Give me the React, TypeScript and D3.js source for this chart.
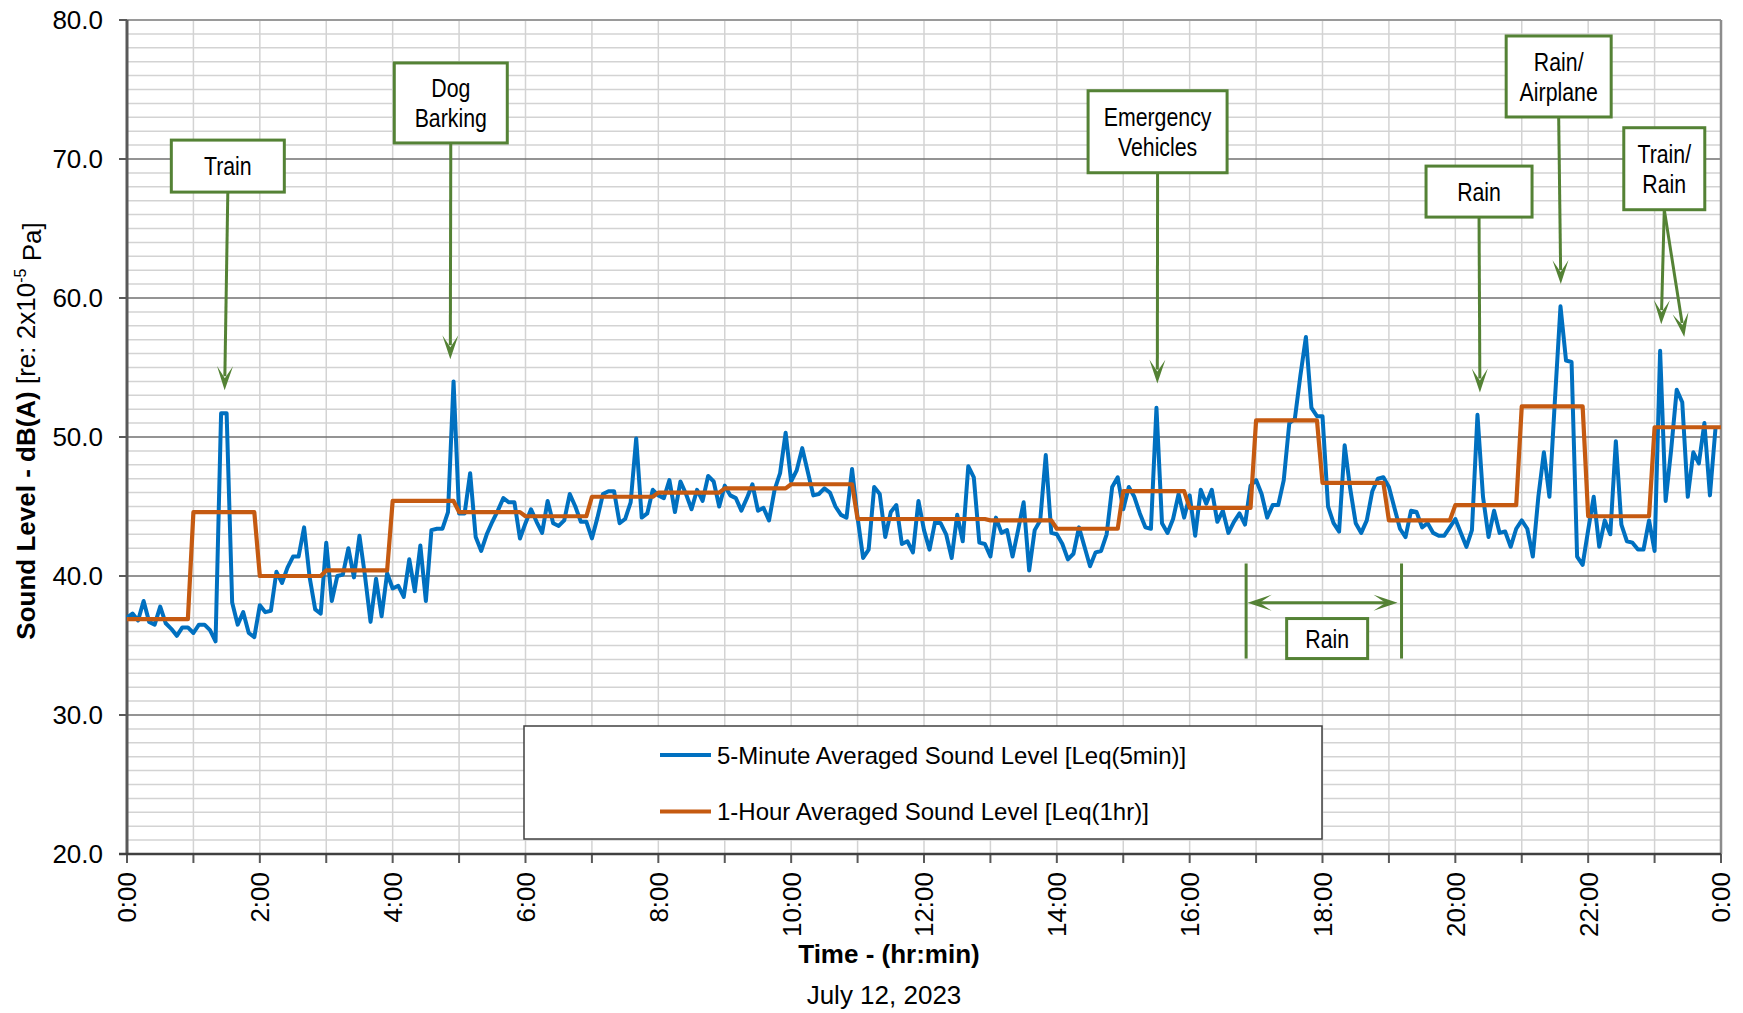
import React from 'react';
import * as d3 from 'd3';

// ---------- DATA ----------
// 5-minute Leq values, 0:00 .. 23:55 (288 samples)
const leq5min: number[] = [
  37.0, 37.3, 36.8, 38.2, 36.7, 36.5, 37.8, 36.6, 36.2, 35.7, 36.3, 36.3,
  35.9, 36.5, 36.5, 36.1, 35.3, 51.7, 51.7, 38.1, 36.5, 37.4, 35.9, 35.6,
  37.9, 37.4, 37.5, 40.3, 39.5, 40.6, 41.4, 41.4, 43.5, 39.9, 37.6, 37.3,
  42.4, 38.2, 40.0, 40.1, 42.0, 39.9, 42.9, 40.0, 36.7, 39.8, 37.1, 40.2,
  39.1, 39.3, 38.5, 41.2, 38.9, 42.2, 38.2, 43.3, 43.4, 43.4, 44.6, 54.0,
  44.5, 44.5, 47.4, 42.8, 41.8, 43.0, 43.9, 44.7, 45.6, 45.3, 45.3, 42.7,
  43.8, 44.8, 43.9, 43.1, 45.4, 43.8, 43.6, 44.0, 45.9, 45.0, 43.9, 43.9,
  42.7, 44.2, 45.9, 46.1, 46.1, 43.8, 44.1, 45.3, 49.9, 44.2, 44.5, 46.2,
  45.8, 45.6, 46.9, 44.6, 46.8, 45.9, 44.8, 46.2, 45.4, 47.2, 46.8, 45.0,
  46.5, 45.8, 45.6, 44.7, 45.6, 46.6, 44.7, 44.9, 44.0, 46.2, 47.4, 50.3,
  46.8, 47.6, 49.2, 47.5, 45.8, 45.9, 46.3, 46.0, 45.0, 44.4, 44.2, 47.7,
  44.2, 41.3, 41.9, 46.4, 45.9, 42.8, 44.6, 45.1, 42.3, 42.5, 41.7, 45.4,
  43.3, 41.9, 43.9, 43.8, 43.0, 41.3, 44.4, 42.5, 47.9, 47.1, 42.4, 42.3,
  41.4, 44.2, 43.1, 43.3, 41.4, 43.3, 45.3, 40.4, 43.3, 44.0, 48.7, 43.1,
  43.0, 42.3, 41.2, 41.6, 43.5, 42.1, 40.7, 41.7, 41.8, 43.0, 46.4, 47.1,
  44.8, 46.4, 45.7, 44.5, 43.5, 43.4, 52.1, 43.8, 43.1, 44.1, 45.9, 44.2,
  45.8, 42.9, 46.2, 45.2, 46.2, 43.9, 44.7, 43.1, 43.9, 44.5, 43.7, 46.5,
  46.9, 45.9, 44.2, 45.1, 45.1, 46.9, 51.0, 51.3, 54.4, 57.2, 52.1, 51.5,
  51.5, 45.0, 43.8, 43.2, 49.4, 46.3, 43.8, 43.1, 44.0, 46.1, 47.0, 47.1,
  46.4, 44.9, 43.4, 42.8, 44.7, 44.6, 43.5, 43.8, 43.1, 42.9, 42.9, 43.5,
  44.1, 43.1, 42.1, 43.3, 51.6, 45.7, 42.8, 44.7, 43.1, 43.2, 42.1, 43.4,
  44.0, 43.4, 41.4, 45.7, 48.9, 45.7, 52.7, 59.4, 55.5, 55.4, 41.4, 40.8,
  43.3, 45.7, 42.1, 44.0, 43.0, 49.7, 43.7, 42.5, 42.4, 41.9, 41.9, 44.0,
  41.8, 56.2, 45.4, 49.1, 53.4, 52.5, 45.7, 48.9, 48.1, 51.0, 45.8, 50.6,
];

// 1-hour Leq values, hour 0 .. 23
const leq1hr: number[] = [
  36.9, 44.6, 40.0, 40.4, 45.4, 44.6, 44.3, 45.7, 46.0, 46.3, 46.6, 44.1,
  44.1, 44.0, 43.4, 46.1, 44.9, 51.2, 46.7, 44.0, 45.1, 52.2, 44.3, 50.7,
];

const xTickHours: number[] = [0, 2, 4, 6, 8, 10, 12, 14, 16, 18, 20, 22, 24];
const xTickLabels: string[] = ['0:00', '2:00', '4:00', '6:00', '8:00', '10:00', '12:00', '14:00', '16:00', '18:00', '20:00', '22:00', '0:00'];
const yTicks: number[] = [20, 30, 40, 50, 60, 70, 80];
const seriesNames: string[] = [
  '5-Minute Averaged Sound Level [Leq(5min)]',
  '1-Hour Averaged Sound Level [Leq(1hr)]',
];

// annotation callouts: label lines, box centre hour, box top dB, arrow tips (hour, dB)
const callouts = [
  { lines: ['Train'], hour: 1.518, top: 71.36, w: 113, h: 52, tips: [[1.47, 53.37]] },
  { lines: ['Dog', 'Barking'], hour: 4.875, top: 76.91, w: 113, h: 80, tips: [[4.868, 55.6]] },
  { lines: ['Emergency', 'Vehicles'], hour: 15.517, top: 74.91, w: 139, h: 82, tips: [[15.513, 53.84]] },
  { lines: ['Rain'], hour: 20.357, top: 69.49, w: 106, h: 51, tips: [[20.37, 53.2]] },
  { lines: ['Rain/', 'Airplane'], hour: 21.556, top: 78.85, w: 105, h: 81, tips: [[21.588, 61.0]] },
  { lines: ['Train/', 'Rain'], hour: 23.146, top: 72.25, w: 81, h: 82, tips: [[23.10, 58.12], [23.447, 57.2]] },
];
const rainSpan = { start: 16.85, end: 19.19, top: 40.9, bottom: 34.06, arrow: 38.07, label: 'Rain', labelHour: 18.07, labelDb: 35.5 };

// ---------- LAYOUT ----------
const W = 1743;
const H = 1013;
const PL = 127, PR = 1721, PT = 20, PB = 854;
const GREEN = '#548235';
const BLUE = '#0070C0';
const ORANGE = '#C55A11';
const FONT = "'Liberation Sans', Arial, sans-serif";

function arrowHead(x1: number, y1: number, x2: number, y2: number, len = 24, half = 8, notch = 12) {
  const dx = x2 - x1, dy = y2 - y1;
  const L = Math.hypot(dx, dy);
  const ux = dx / L, uy = dy / L;
  const px = -uy, py = ux;
  const pts = [
    [x2, y2],
    [x2 - ux * len + px * half, y2 - uy * len + py * half],
    [x2 - ux * notch, y2 - uy * notch],
    [x2 - ux * len - px * half, y2 - uy * len - py * half],
  ];
  return pts.map(p => p.join(',')).join(' ');
}

function NarrowText({ x, y, children }: { x: number; y: number; children: React.ReactNode }) {
  return (
    <text transform={`translate(${x},${y}) scale(0.82,1)`} dy="0.36em" textAnchor="middle" fontSize={26} fill="#000">{children}</text>
  );
}

export default function App() {
  const x = d3.scaleLinear().domain([0, 24]).range([PL, PR]);
  const y = d3.scaleLinear().domain([20, 80]).range([PB, PT]);

  const bluePts = leq5min.map((v, i) => [i / 12, v] as [number, number]);
  const orangePts = d3.range(0, 289).map(i => [i / 12, leq1hr[Math.min(23, Math.floor(i / 12))]] as [number, number]);
  const line = d3.line<[number, number]>().x(d => x(d[0])).y(d => y(d[1]));

  const minor = d3.range(21, 80).filter(v => v % 10 !== 0);
  const major = [30, 40, 50, 60, 70];
  const hours = d3.range(1, 24);

  return (
    <svg width={W} height={H} style={{ position: 'absolute', left: 0, top: 0, background: '#fff' }} fontFamily={FONT}>
      <rect x={0} y={0} width={W} height={H} fill="#fff" />
      {/* grid */}
      {hours.map(h => (
        <line key={'v' + h} x1={x(h)} x2={x(h)} y1={PT} y2={PB} stroke="#d3d3d3" strokeWidth={1.5} />
      ))}
      {minor.map(v => (
        <line key={'m' + v} x1={PL} x2={PR} y1={y(v)} y2={y(v)} stroke="#d3d3d3" strokeWidth={1.5} />
      ))}
      {major.map(v => (
        <line key={'M' + v} x1={PL} x2={PR} y1={y(v)} y2={y(v)} stroke="#707070" strokeWidth={1.7} />
      ))}
      <line x1={PL} x2={PR} y1={PT} y2={PT} stroke="#9a9a9a" strokeWidth={2} />
      <line x1={PR} x2={PR} y1={PT} y2={PB} stroke="#8c8c8c" strokeWidth={2.5} />

      {/* y ticks */}
      {yTicks.map(v => (
        <g key={'yt' + v}>
          <line x1={PL - 8} x2={PL} y1={y(v)} y2={y(v)} stroke="#595959" strokeWidth={2} />
          <text x={103} y={y(v)} dy="0.36em" textAnchor="end" fontSize={26} fill="#000">{v.toFixed(1)}</text>
        </g>
      ))}
      {/* x ticks */}
      {d3.range(0, 25).map(h => (
        <line key={'xt' + h} x1={x(h)} x2={x(h)} y1={PB} y2={PB + 9} stroke="#595959" strokeWidth={2} />
      ))}
      {xTickHours.map((h, i) => (
        <text key={'xl' + i} transform={`translate(${x(h)},${PB + 18}) rotate(-90)`} dy="0.36em" textAnchor="end" fontSize={26} fill="#000">{xTickLabels[i]}</text>
      ))}

      {/* axes */}
      <line x1={PL} x2={PL} y1={PT} y2={PB} stroke="#595959" strokeWidth={3} />
      <line x1={PL - 8} x2={PR} y1={PB} y2={PB} stroke="#404040" strokeWidth={2.5} />

      {/* series */}
      <path d={line(bluePts) || ''} fill="none" stroke={BLUE} strokeWidth={4} strokeLinejoin="round" />
      <path d={line(orangePts) || ''} fill="none" stroke={ORANGE} strokeWidth={4.2} strokeLinejoin="round" />

      {/* callouts */}
      {callouts.map((c, k) => {
        const cx = x(c.hour);
        const top = y(c.top);
        const bottom = top + c.h;
        return (
          <g key={'c' + k}>
            {c.tips.map((t, j) => {
              const tx = x(t[0]), ty = y(t[1]);
              const L = Math.hypot(tx - cx, ty - bottom);
              const ex = tx - (tx - cx) / L * 14, ey = ty - (ty - bottom) / L * 14;
              return (
                <g key={j}>
                  <line x1={cx} y1={bottom} x2={ex} y2={ey} stroke={GREEN} strokeWidth={3} />
                  <polygon points={arrowHead(cx, bottom, tx, ty)} fill={GREEN} />
                </g>
              );
            })}
            <rect x={cx - c.w / 2} y={top} width={c.w} height={c.h} fill="#fff" stroke={GREEN} strokeWidth={3} />
            {c.lines.map((s, j) => (
              <NarrowText key={j} x={cx} y={top + c.h / 2 + (j - (c.lines.length - 1) / 2) * 30}>{s}</NarrowText>
            ))}
          </g>
        );
      })}

      {/* rain span */}
      {(() => {
        const x1 = x(rainSpan.start), x2 = x(rainSpan.end);
        const yt = y(rainSpan.top), yb = y(rainSpan.bottom), ya = y(rainSpan.arrow);
        const lx = x(rainSpan.labelHour), ly = y(rainSpan.labelDb);
        return (
          <g>
            <line x1={x1} x2={x1} y1={yt} y2={yb} stroke={GREEN} strokeWidth={3} />
            <line x1={x2} x2={x2} y1={yt} y2={yb} stroke={GREEN} strokeWidth={3} />
            <line x1={x1 + 12} x2={x2 - 12} y1={ya} y2={ya} stroke={GREEN} strokeWidth={3} />
            <polygon points={arrowHead(x2, ya, x1 + 1.5, ya)} fill={GREEN} />
            <polygon points={arrowHead(x1, ya, x2 - 4, ya)} fill={GREEN} />
            <rect x={lx - 40.5} y={ly - 20} width={81} height={40} fill="#fff" stroke={GREEN} strokeWidth={3} />
            <NarrowText x={lx} y={ly}>{rainSpan.label}</NarrowText>
          </g>
        );
      })()}

      {/* legend */}
      <rect x={524} y={726} width={798} height={113} fill="#fff" stroke="#404040" strokeWidth={1.5} />
      {seriesNames.map((s, i) => (
        <g key={'lg' + i}>
          <line x1={660} x2={711} y1={755 + i * 56.5} y2={755 + i * 56.5} stroke={i === 0 ? BLUE : ORANGE} strokeWidth={4} />
          <text x={717} y={755 + i * 56.5} dy="0.36em" fontSize={24} fill="#000">{s}</text>
        </g>
      ))}

      {/* axis titles */}
      <text transform={`translate(35,431) rotate(-90)`} textAnchor="middle" fontSize={26} fill="#000">
        <tspan fontWeight="bold">Sound Level - dB(A)</tspan>
        <tspan> [re: 2x10</tspan>
        <tspan fontSize={16} dy="-0.55em">-5</tspan>
        <tspan dy="0.55em"> Pa]</tspan>
      </text>
      <text x={889} y={954} dy="0.36em" textAnchor="middle" fontSize={26} fontWeight="bold" fill="#000">Time - (hr:min)</text>
      <text x={884} y={995} dy="0.36em" textAnchor="middle" fontSize={26} fill="#000">July 12, 2023</text>
    </svg>
  );
}
